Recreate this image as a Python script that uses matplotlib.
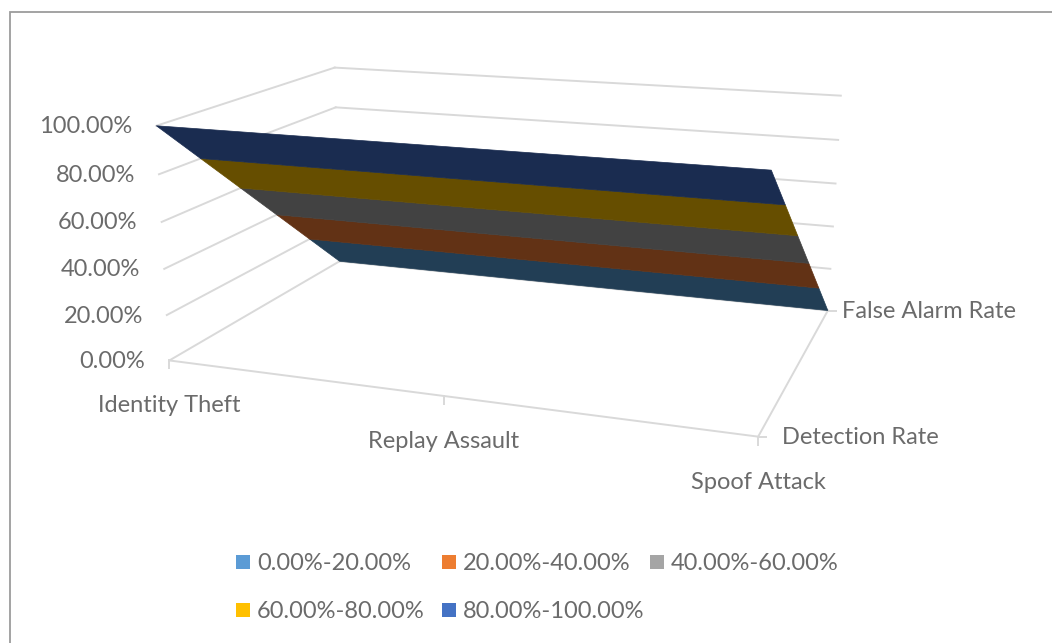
import numpy as np
import matplotlib
matplotlib.use("Agg")
import matplotlib.pyplot as plt
from matplotlib.patches import Polygon, Rectangle

plt.rcParams['font.family'] = ['Lato', 'DejaVu Sans']

# Surface data: attack types along the width, rates along the depth
categories = ["Identity Theft", "Replay Assault", "Spoof Attack"]
series_names = ["Detection Rate", "False Alarm Rate"]
detection_rate = [100.0, 100.0, 100.0]
false_alarm_rate = [0.0, 0.0, 0.0]
value_ticks = [0, 20, 40, 60, 80, 100]
value_labels = ["0.00%", "20.00%", "40.00%", "60.00%", "80.00%", "100.00%"]
band_labels = ["0.00%-20.00%", "20.00%-40.00%", "40.00%-60.00%",
               "60.00%-80.00%", "80.00%-100.00%"]
legend_colors = ["#5B9BD5", "#ED7D31", "#A5A5A5", "#FFC000", "#4472C4"]
shaded_colors = ["#223E55", "#623215", "#424242", "#664E00", "#1A2C50"]

GRID = "#D9D9D9"
TEXT = "#6B6B6B"
FS = 17

# Camera for the 3D box: world (width, depth, value) to canvas pixels
world = np.array([(0, 0, 0), (2, 0, 0), (2, 1, 0), (0, 1, 0),
                  (0, 0, 100), (2, 0, 100), (2, 1, 100), (0, 1, 100), (1, 0, 0)], float)
canvas = np.array([(170, 361), (758, 437), (828, 310), (339, 261),
                   (156, 125), (771, 170), (841, 96), (335, 68), (444, 396)], float)


def fit_camera(w, c):
    rows, rhs = [], []
    for (x, y, z), (u, v) in zip(w, c):
        rows.append([x, y, z, 1, 0, 0, 0, 0, -u * x, -u * y, -u * z])
        rows.append([0, 0, 0, 0, x, y, z, 1, -v * x, -v * y, -v * z])
        rhs += [u, v]
    sol = np.linalg.lstsq(np.array(rows), np.array(rhs), rcond=None)[0]
    return np.append(sol, 1.0).reshape(3, 4)


CAMERA = fit_camera(world, canvas)


def project(x, y, z):
    h = CAMERA @ np.array([x, y, z, 1.0])
    return h[0] / h[2], h[1] / h[2]


fig = plt.figure(figsize=(10.52, 6.43), dpi=100)
ax = fig.add_axes([0, 0, 1, 1])
ax.set_xlim(0, 1052)
ax.set_ylim(643, 0)
ax.axis("off")

# Chart border (top and left edges are the only ones in view)
ax.plot([10, 10, 1052], [643, 12, 12], color="#9C9C9C", lw=1.3, solid_joinstyle="miter")


def line3d(a, b, **kw):
    pa, pb = project(*a), project(*b)
    ax.plot([pa[0], pb[0]], [pa[1], pb[1]], color=GRID, lw=1.4, **kw)


# Wall gridlines
last_cat = len(categories) - 1
for v in value_ticks:
    line3d((0, 0, v), (0, 1, v))
    line3d((0, 1, v), (last_cat, 1, v))

# Floor edges and axis tick marks
line3d((0, 0, 0), (last_cat, 0, 0))
line3d((last_cat, 0, 0), (last_cat, 1, 0))
for i in range(len(categories)):
    px, py = project(i, 0, 0)
    ax.plot([px, px], [py, py + 8], color=GRID, lw=1.4)
for j in range(len(series_names)):
    px, py = project(last_cat, j, 0)
    ax.plot([px, px + 8], [py, py], color=GRID, lw=1.4)

# Surface split into one polygon per value band
front = np.array(detection_rate)
back = np.array(false_alarm_rate)


def depth_at(i, level):
    # Depth at which the rate crosses a given level for category i
    return (front[i] - level) / (front[i] - back[i])


for b, color in enumerate(shaded_colors):
    lo, hi = value_ticks[b], value_ticks[b + 1]
    upper = [project(i, depth_at(i, hi), hi) for i in range(len(categories))]
    lower = [project(i, depth_at(i, lo), lo) for i in range(len(categories))]
    ax.add_patch(Polygon(upper + lower[::-1], closed=True, facecolor=color,
                         edgecolor=color, lw=0.5, zorder=3))

# Value axis labels
for v, lab in zip(value_ticks, value_labels):
    px, py = project(0, 0, v)
    ax.text(px - 24, py + 1, lab, ha="right", va="center", color=TEXT, fontsize=FS)

# Category and series labels
for i, lab in enumerate(categories):
    px, py = project(i, 0, 0)
    ax.text(px, py + 45.5, lab, ha="center", va="center", color=TEXT, fontsize=FS)
for j, lab in enumerate(series_names):
    px, py = project(last_cat, j, 0)
    ax.text(px + 14 + 10 * (j == 0), py + 1, lab, ha="left", va="center", color=TEXT, fontsize=FS)

# Legend, two rows of swatches with labels
legend_x = [236, 442, 650, 236, 442]
legend_y = [562, 562, 562, 610, 610]
for x, y, c, lab in zip(legend_x, legend_y, legend_colors, band_labels):
    ax.add_patch(Rectangle((x, y - 7), 14, 14, facecolor=c, edgecolor="none"))
    ax.text(x + 21, y + 1, lab, ha="left", va="center", color=TEXT, fontsize=FS)

fig.savefig("out.png", dpi=100)
